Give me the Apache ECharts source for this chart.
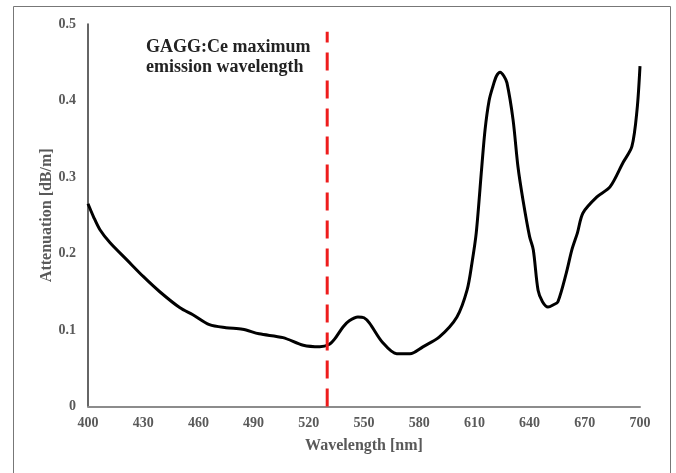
<!DOCTYPE html>
<html>
<head>
<meta charset="utf-8">
<script src="https://cdn.jsdelivr.net/npm/echarts@6/dist/echarts.min.js"></script>
<style>
  html, body { margin: 0; padding: 0; background: #fff; }
  #chart { width: 676px; height: 473px; }
</style>
</head>
<body>
<div id="chart"></div>
<script>
// spectrum
const wavelength = [400, 403, 406.5, 412, 421, 430, 439, 450, 457, 466, 475, 484, 493, 506, 517, 526,
  531, 534, 538.6, 542, 546.7, 550, 553, 560, 567.8, 575, 582, 591, 600.5, 606, 608.7, 611, 614,
  615.8, 618, 620, 622, 624, 626, 627.7, 631, 633.7, 636.4, 640, 642, 644.6, 647, 650, 653, 655.4,
  660, 663, 666, 669, 676.6, 683.7, 690.8, 695.6, 698.4, 700]
const attenuation = [0.265, 0.248, 0.231, 0.214, 0.192, 0.170, 0.150, 0.129, 0.120, 0.107, 0.103, 0.101,
  0.095, 0.090, 0.080, 0.078, 0.081, 0.088, 0.104, 0.112, 0.117, 0.116, 0.109, 0.084, 0.069, 0.069,
  0.078, 0.091, 0.117, 0.152, 0.188, 0.227, 0.313, 0.362, 0.400, 0.418, 0.432, 0.437, 0.432, 0.423,
  0.375, 0.313, 0.270, 0.222, 0.205, 0.152, 0.137, 0.130, 0.133, 0.137, 0.175, 0.205, 0.227, 0.253,
  0.274, 0.287, 0.319, 0.340, 0.388, 0.445]
const emissionPeak = 530
const emissionLine = [0, 0.49]
const noteText = 'GAGG:Ce maximum\nemission wavelength'

const font = 'Liberation Serif'
const grey = '#595959'

const chart = echarts.init(document.getElementById('chart'))
chart.setOption({
  animation: false,
  grid: { left: 88, right: 36, top: 24, bottom: 66.5 },
  xAxis: {
    type: 'value', min: 400, max: 700, interval: 30,
    name: 'Wavelength [nm]', nameLocation: 'middle', nameGap: 31,
    nameTextStyle: { fontFamily: font, fontWeight: 'bold', fontSize: 16, color: grey },
    axisLine: { lineStyle: { color: '#8c8c8c', width: 2 } },
    axisTick: { show: false },
    splitLine: { show: false },
    axisLabel: { fontFamily: font, fontWeight: 'bold', fontSize: 14, color: grey, margin: 10 }
  },
  yAxis: {
    type: 'value', min: 0, max: 0.5, interval: 0.1,
    name: 'Attenuation [dB/m]', nameLocation: 'middle', nameGap: 33, nameMoveOverlap: false,
    nameTextStyle: { fontFamily: font, fontWeight: 'bold', fontSize: 16, color: grey },
    axisLine: { show: true, lineStyle: { color: '#333', width: 1.5 } },
    axisTick: { show: false },
    splitLine: { show: false },
    axisLabel: { fontFamily: font, fontWeight: 'bold', fontSize: 14, color: grey, margin: 12 }
  },
  graphic: [
    { type: 'rect', shape: { x: 13.5, y: 6.5, width: 657, height: 480 },
      style: { fill: 'none', stroke: '#777', lineWidth: 1 }, silent: true },
    { type: 'text', left: 146, top: 37,
      style: { text: noteText, fontFamily: font, fontWeight: 'bold', fontSize: 18, lineHeight: 20, fill: '#222' } }
  ],
  series: [
    {
      type: 'line', smooth: 0.3, symbol: 'none',
      data: wavelength.map((w, i) => [w, attenuation[i]]),
      lineStyle: { color: '#000', width: 3 }
    },
    {
      type: 'line', symbol: 'none', z: 3,
      data: emissionLine.map(v => [emissionPeak, v]),
      lineStyle: { color: '#ee1c1c', width: 3, type: [18, 10] }
    }
  ]
})
</script>
</body>
</html>
